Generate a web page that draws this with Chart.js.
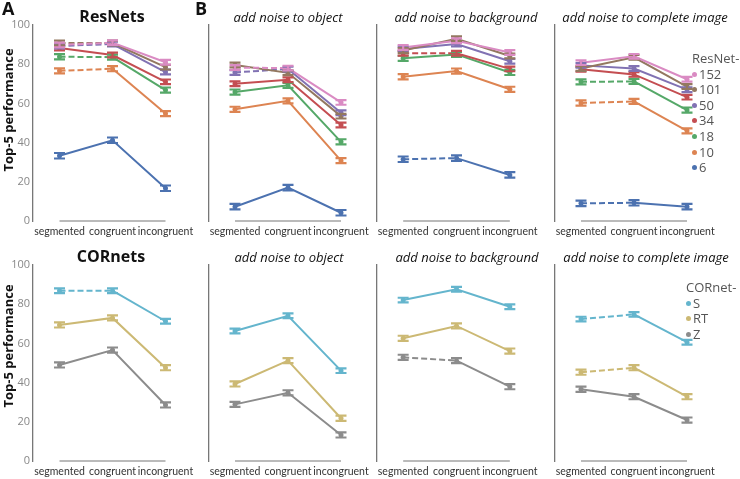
<!DOCTYPE html>
<html>
<head>
<meta charset="utf-8">
<script src="https://cdn.jsdelivr.net/npm/chart.js@4.4.1/dist/chart.umd.min.js"></script>
<style>
  body { margin: 0; background: #fff; width: 740px; height: 479px; position: relative; overflow: hidden; font-family: 'Open Sans', sans-serif; }
  canvas { position: absolute; }
  .txt { position: absolute; white-space: nowrap; }
  .letter { font-weight: bold; font-size: 18px; color: #111; }
  .title { font-weight: bold; font-size: 16px; color: #111; text-align: center; width: 200px; }
  .sub { font-style: italic; font-size: 13px; color: #111; text-align: center; width: 220px; }
  .ytitle { font-weight: bold; font-size: 13px; color: #111; transform: rotate(-90deg); transform-origin: center; width: 140px; text-align: center; }
  .leg { font-size: 13px; color: #555; line-height: 15.6px; }
  .leg span.dot { display: inline-block; width: 5px; height: 5px; border-radius: 50%; margin-right: 2px; vertical-align: middle; position: relative; top: -1px; }
</style>
</head>
<body>

<script>
const conditions = ['segmented', 'congruent', 'incongruent'];

const resnetNames = ['152', '101', '50', '34', '18', '10', '6'];
const resnetColors = ['#da8bc3', '#937860', '#8172b3', '#c44e52', '#55a868', '#dd8452', '#4c72b0'];
const resnetSem = [1.2, 1.2, 1.2, 1.2, 1.3, 1.3, 1.4];

const cornetNames = ['S', 'RT', 'Z'];
const cornetColors = ['#64b5cd', '#ccb974', '#8c8c8c'];
const cornetSem = [1.2, 1.3, 1.3];

// ResNet top-5 performance, rows follow resnetNames
const resnetClean = [
  [89.8, 91.0, 81.0],
  [90.8, 90.8, 78.5],
  [89.3, 90.3, 76.0],
  [88.3, 84.7, 71.0],
  [83.8, 83.6, 66.8],
  [76.6, 77.7, 54.8],
  [33.3, 41.2, 16.7],
];
const resnetNoiseObject = [
  [78.3, 78.0, 60.5],
  [79.6, 75.6, 53.5],
  [75.8, 77.5, 55.2],
  [70.0, 72.1, 49.0],
  [65.8, 69.2, 40.4],
  [57.0, 61.3, 30.8],
  [7.3, 17.0, 4.2],
];
const resnetNoiseBackground = [
  [88.5, 92.0, 86.0],
  [87.0, 93.0, 84.2],
  [87.8, 90.3, 81.5],
  [85.6, 85.6, 77.6],
  [83.0, 85.0, 75.8],
  [73.6, 76.5, 67.2],
  [31.5, 32.1, 23.5],
];
const resnetNoiseImage = [
  [80.8, 84.0, 72.3],
  [77.8, 83.5, 68.6],
  [79.4, 77.8, 67.0],
  [77.4, 74.8, 63.2],
  [71.0, 71.2, 56.6],
  [60.2, 61.0, 46.0],
  [9.0, 9.3, 7.3],
];

// CORnet top-5 performance, rows follow cornetNames
const cornetClean = [
  [86.9, 86.9, 71.3],
  [69.4, 73.0, 47.6],
  [49.0, 56.6, 28.6],
];
const cornetNoiseObject = [
  [66.3, 74.1, 46.1],
  [39.3, 51.2, 21.8],
  [28.9, 34.8, 13.3],
];
const cornetNoiseBackground = [
  [82.1, 87.6, 78.7],
  [62.6, 68.9, 56.1],
  [52.9, 51.2, 37.9],
];
const cornetNoiseImage = [
  [72.4, 74.8, 60.6],
  [45.3, 47.6, 32.8],
  [36.6, 32.8, 20.9],
];

// dashed segmented->congruent line (no significant difference)
const resnetCleanDashed = [1, 1, 1, 0, 1, 1, 0];
const resnetObjectDashed = [1, 0, 1, 0, 0, 0, 0];
const resnetBackgroundDashed = [0, 0, 0, 1, 0, 0, 1];
const resnetImageDashed = [0, 0, 0, 0, 1, 1, 1];
const cornetCleanDashed = [1, 0, 0];
const cornetObjectDashed = [0, 0, 0];
const cornetBackgroundDashed = [0, 0, 1];
const cornetImageDashed = [1, 1, 0];

const yTicks = [0, 20, 40, 60, 80, 100];

// layout of the four columns
const columns = [
  { canvasLeft: 0, canvasWidth: 200, chartLeft: 33, chartWidth: 159, ticks: true },
  { canvasLeft: 196, canvasWidth: 180, chartLeft: 208.5, chartWidth: 159, ticks: false },
  { canvasLeft: 365, canvasWidth: 180, chartLeft: 376.5, chartWidth: 160, ticks: false },
  { canvasLeft: 545, canvasWidth: 195, chartLeft: 554.5, chartWidth: 159, ticks: false },
];
const rows = [
  { top: 0, height: 240, xHeight: 19 },
  { top: 240, height: 239, xHeight: 18 },
];

const errorBars = {
  id: 'errorBars',
  afterDatasetsDraw(chart) {
    const { ctx, scales: { x, y } } = chart;
    ctx.save();
    for (let i = chart.data.datasets.length - 1; i >= 0; i--) {
      const ds = chart.data.datasets[i];
      const meta = chart.getDatasetMeta(i);
      ctx.strokeStyle = ds.borderColor;
      meta.data.forEach((pt, j) => {
        const top = y.getPixelForValue(ds.data[j] + ds.sem);
        const bot = y.getPixelForValue(ds.data[j] - ds.sem);
        ctx.lineWidth = 2.2;
        ctx.beginPath();
        ctx.moveTo(pt.x, top);
        ctx.lineTo(pt.x, bot);
        ctx.moveTo(pt.x - 5.5, top);
        ctx.lineTo(pt.x + 5.5, top);
        ctx.moveTo(pt.x - 5.5, bot);
        ctx.lineTo(pt.x + 5.5, bot);
        ctx.stroke();
      });
    }
    // short baseline under the categories
    const yb = y.getPixelForValue(0);
    ctx.strokeStyle = '#777';
    ctx.lineWidth = 1.2;
    ctx.beginPath();
    ctx.moveTo(x.getPixelForValue(0), yb);
    ctx.lineTo(x.getPixelForValue(2), yb);
    ctx.stroke();
    ctx.restore();
  },
};

function addText(cls, html, left, top, extra) {
  const d = document.createElement('div');
  d.className = 'txt ' + cls;
  d.innerHTML = html;
  d.style.left = left + 'px';
  d.style.top = top + 'px';
  if (extra) Object.assign(d.style, extra);
  document.body.appendChild(d);
  return d;
}

function makePanel(values, names, colors, sem, dashed, row, col) {
  const c = columns[col];
  const r = rows[row];
  const canvas = document.createElement('canvas');
  canvas.width = c.canvasWidth;
  canvas.height = r.height;
  canvas.style.left = c.canvasLeft + 'px';
  canvas.style.top = r.top + 'px';
  document.body.appendChild(canvas);

  const yWidth = c.ticks ? 33 : 0;
  const datasets = values.map((v, i) => ({
    label: names[i],
    data: v,
    sem: sem[i],
    borderColor: colors[i],
    backgroundColor: colors[i],
    borderWidth: 2,
    pointRadius: 2.5,
    pointBorderWidth: 0,
    segment: {
      borderDash: (ctx) => (ctx.p0DataIndex === 0 && dashed[i] ? [6, 3] : undefined),
    },
  }));

  new Chart(canvas, {
    type: 'line',
    data: { labels: conditions, datasets: datasets },
    options: {
      responsive: false,
      animation: false,
      layout: {
        padding: {
          left: c.chartLeft - c.canvasLeft - yWidth,
          right: c.canvasLeft + c.canvasWidth - c.chartLeft - c.chartWidth,
          top: 25,
          bottom: 0,
        },
      },
      plugins: { legend: { display: false }, tooltip: { enabled: false } },
      scales: {
        x: {
          offset: true,
          grid: { display: false, drawTicks: false },
          border: { display: false },
          ticks: { color: '#333', font: { family: 'Lato', size: 10.5 }, padding: 4, maxRotation: 0, autoSkip: false },
          afterFit: (s) => { s.height = r.xHeight; s.paddingLeft = 0; s.paddingRight = 0; },
        },
        y: {
          min: 0,
          max: 100,
          afterBuildTicks: (s) => { s.ticks = yTicks.map((v) => ({ value: v })); },
          grid: { display: false, drawTicks: false },
          border: { display: true, color: '#777', width: 1.3 },
          ticks: { display: c.ticks, color: '#888', font: { family: 'Open Sans', size: 11 }, padding: 3 },
          afterFit: (s) => { s.width = yWidth; },
        },
      },
    },
    plugins: [errorBars],
  });
}

makePanel(resnetClean, resnetNames, resnetColors, resnetSem, resnetCleanDashed, 0, 0);
makePanel(resnetNoiseObject, resnetNames, resnetColors, resnetSem, resnetObjectDashed, 0, 1);
makePanel(resnetNoiseBackground, resnetNames, resnetColors, resnetSem, resnetBackgroundDashed, 0, 2);
makePanel(resnetNoiseImage, resnetNames, resnetColors, resnetSem, resnetImageDashed, 0, 3);
makePanel(cornetClean, cornetNames, cornetColors, cornetSem, cornetCleanDashed, 1, 0);
makePanel(cornetNoiseObject, cornetNames, cornetColors, cornetSem, cornetObjectDashed, 1, 1);
makePanel(cornetNoiseBackground, cornetNames, cornetColors, cornetSem, cornetBackgroundDashed, 1, 2);
makePanel(cornetNoiseImage, cornetNames, cornetColors, cornetSem, cornetImageDashed, 1, 3);

// panel letters and titles
addText('letter', 'A', 2, -4);
addText('letter', 'B', 195, -4);
addText('title', 'ResNets', 12, 5);
addText('title', 'CORnets', 11, 245);
const subtitles = ['add noise to object', 'add noise to background', 'add noise to complete image'];
const subCenters = [288, 466, 645];
subtitles.forEach((t, i) => {
  addText('sub', t, subCenters[i] - 110, 8);
  addText('sub', t, subCenters[i] + 1 - 110, 248);
});
addText('ytitle', 'Top-5 performance', 8 - 70, 110 - 9);
addText('ytitle', 'Top-5 performance', 8 - 70, 346 - 9);

// legends
function addLegend(title, names, colors, left, top) {
  let html = title;
  names.forEach((n, i) => {
    html += `<br><span class="dot" style="background:${colors[i]}"></span>${n}`;
  });
  addText('leg', html, left, top);
}
addLegend('ResNet-', resnetNames, resnetColors, 692, 51);
addLegend('CORnet-', cornetNames, cornetColors, 686, 280);
</script>
</body>
</html>
